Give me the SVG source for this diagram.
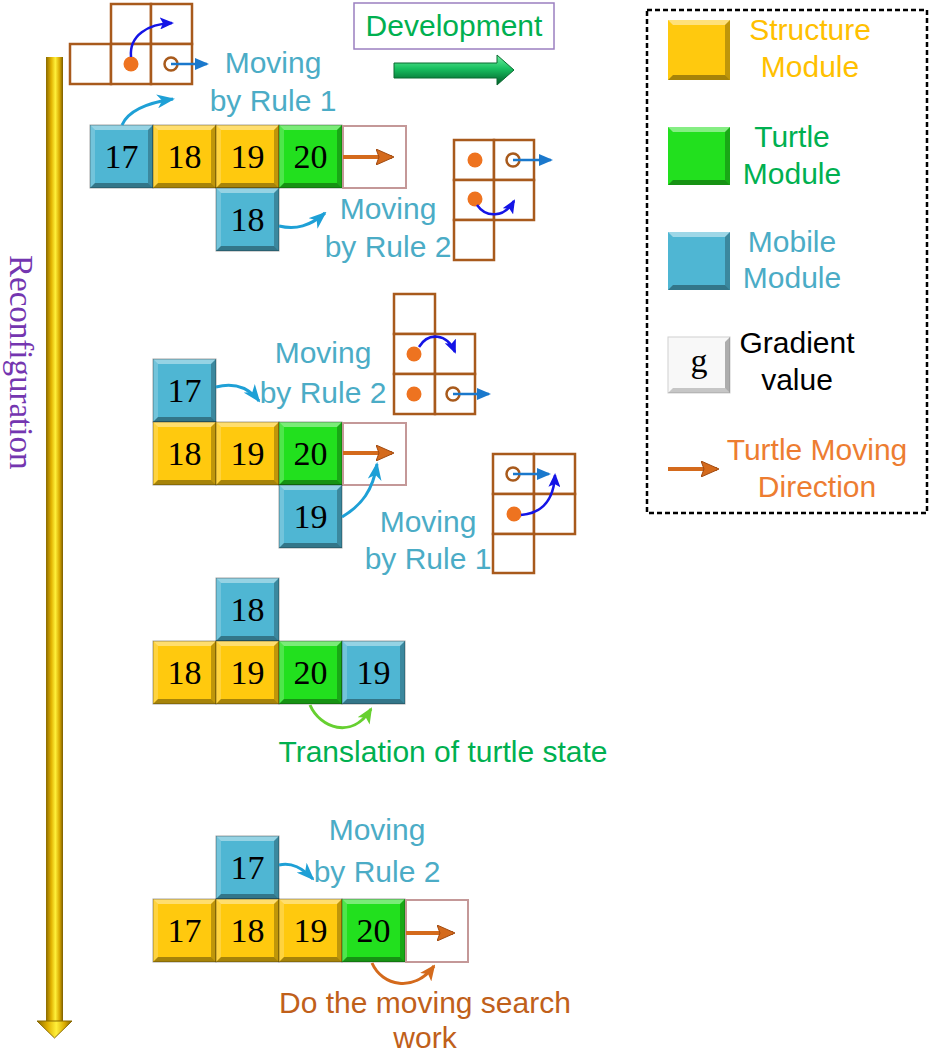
<svg xmlns="http://www.w3.org/2000/svg" xmlns:xlink="http://www.w3.org/1999/xlink" width="930" height="1057" viewBox="0 0 930 1057">
<style>
.lbl{font-family:"Liberation Sans",Arial,sans-serif;font-size:30px;text-anchor:middle}
.cy{fill:#4bacc6}
.num{font-family:"Liberation Serif","Times New Roman",serif;font-size:34px;text-anchor:middle;fill:#000}
.blue{fill:#4fb6d3}
.yel{fill:#ffc90e}
.grn{fill:#22e01e}
.edge{fill:none;stroke:#000;stroke-opacity:.35;stroke-width:1}
.empty{fill:#fff;stroke:#c49898;stroke-width:2}
.grid{fill:#fff;stroke:#a85a1c;stroke-width:2.5}
.dot{fill:#ee7320}
.hol{fill:none;stroke:#a85a1c;stroke-width:2.5}
.lb{stroke:#1a78cc;stroke-width:2.5;fill:none;marker-end:url(#mLB)}
.db{stroke:#1414e6;stroke-width:2.5;fill:none;marker-end:url(#mDB)}
.cyc{stroke:#1ea0d6;stroke-width:3;fill:none;marker-end:url(#mCY)}
.or{stroke:#d46a1c;stroke-width:4;fill:none;marker-end:url(#mOR)}
</style>
<defs>
<linearGradient id="gold" x1="0" y1="0" x2="1" y2="0">
<stop offset="0" stop-color="#8a6a00"/><stop offset="0.3" stop-color="#e0b000"/><stop offset="0.55" stop-color="#fff03a"/><stop offset="0.8" stop-color="#d8a800"/><stop offset="1" stop-color="#7a5c00"/>
</linearGradient>
<linearGradient id="dev" x1="0" y1="0" x2="0" y2="1">
<stop offset="0" stop-color="#6ef0a0"/><stop offset="0.45" stop-color="#19c060"/><stop offset="1" stop-color="#005a28"/>
</linearGradient>
<g id="bev">
<polygon points="0,0 63,0 58,5 5,5" fill="#fff" opacity=".4"/>
<polygon points="0,0 5,5 5,58 0,63" fill="#fff" opacity=".2"/>
<polygon points="0,63 5,58 58,58 63,63" fill="#000" opacity=".35"/>
<polygon points="63,0 63,63 58,58 58,5" fill="#000" opacity=".25"/>
<rect x="0" y="0" width="63" height="63" class="edge"/>
</g>
<marker id="mLB" markerUnits="userSpaceOnUse" markerWidth="14" markerHeight="12" refX="12" refY="6" orient="auto"><path d="M0,0 L14,6 L0,12 z" fill="#1a78cc"/></marker>
<marker id="mDB" markerUnits="userSpaceOnUse" markerWidth="14" markerHeight="12" refX="12" refY="6" orient="auto"><path d="M0,0 L14,6 L0,12 L3,6 z" fill="#1414e6"/></marker>
<marker id="mCY" markerUnits="userSpaceOnUse" markerWidth="18" markerHeight="14" refX="16" refY="7" orient="auto"><path d="M0,0 L18,7 L0,14 L5,7 z" fill="#1ea0d6"/></marker>
<marker id="mOR" markerUnits="userSpaceOnUse" markerWidth="18" markerHeight="16" refX="16" refY="8" orient="auto"><path d="M0,0 L18,8 L0,16 L3,8 z" fill="#d46a1c" stroke="#a04a10" stroke-width="1"/></marker>
<marker id="mGR" markerUnits="userSpaceOnUse" markerWidth="16" markerHeight="14" refX="14" refY="7" orient="auto"><path d="M0,0 L16,7 L0,14 L4,7 z" fill="#66d030"/></marker>
<marker id="mOR2" markerUnits="userSpaceOnUse" markerWidth="16" markerHeight="14" refX="14" refY="7" orient="auto"><path d="M0,0 L16,7 L0,14 L4,7 z" fill="#d46a1c"/></marker>
</defs>
<rect width="930" height="1057" fill="#fff"/>

<g id="reconfiguration">
<rect x="46" y="57" width="17" height="964" fill="url(#gold)"/>
<polygon points="37,1021 72,1021 54.5,1038" fill="url(#gold)" stroke="#8a6a00" stroke-width="1"/>
<text transform="translate(10,255) rotate(90)" font-family="Liberation Serif,serif" font-size="33" fill="#7436b0">Reconfiguration</text>
</g>

<g id="development">
<rect x="354" y="3" width="200" height="46" fill="#fff" stroke="#9b7fc0" stroke-width="1.5"/>
<text x="454" y="36" class="lbl" fill="#00b050">Development</text>
<polygon points="394,63 497,63 497,55 514,70 497,85 497,78 394,78" fill="url(#dev)" stroke="#0a6a30" stroke-width="1"/>
</g>

<g id="legend">
<rect x="647" y="10" width="280" height="503" fill="none" stroke="#000" stroke-width="2.5" stroke-dasharray="5,3"/>
<g id="leg-structure">
<rect x="668" y="20" width="62" height="60" class="yel"/>
<polygon points="668,20 730,20 725,25 673,25" fill="#fff" opacity=".45"/><polygon points="668,80 673,75 725,75 730,80" fill="#000" opacity=".35"/><polygon points="730,20 730,80 725,75 725,25" fill="#000" opacity=".25"/>
<text x="810" y="40" class="lbl" fill="#ffc000">Structure</text><text x="810" y="77" class="lbl" fill="#ffc000">Module</text>
</g>
<g id="leg-turtle">
<rect x="668" y="127" width="62" height="58" class="grn"/>
<polygon points="668,127 730,127 725,132 673,132" fill="#fff" opacity=".45"/><polygon points="668,185 673,180 725,180 730,185" fill="#000" opacity=".35"/><polygon points="730,127 730,185 725,180 725,132" fill="#000" opacity=".25"/>
<text x="792" y="147" class="lbl" fill="#00b050">Turtle</text><text x="792" y="184" class="lbl" fill="#00b050">Module</text>
</g>
<g id="leg-mobile">
<rect x="668" y="232" width="62" height="58" class="blue"/>
<polygon points="668,232 730,232 725,237 673,237" fill="#fff" opacity=".45"/><polygon points="668,290 673,285 725,285 730,290" fill="#000" opacity=".35"/><polygon points="730,232 730,290 725,285 725,237" fill="#000" opacity=".25"/>
<text x="792" y="252" class="lbl cy">Mobile</text><text x="792" y="288" class="lbl cy">Module</text>
</g>
<g id="leg-gradient">
<rect x="668" y="337" width="62" height="56" fill="#f8f8f8" stroke="#d0d0d0" stroke-width="1"/>
<polygon points="668,393 673,388 725,388 730,393" fill="#000" opacity=".2"/><polygon points="730,337 730,393 725,388 725,342" fill="#000" opacity=".3"/>
<text x="699" y="372" class="num" font-size="30">g</text>
<text x="797" y="353" class="lbl" fill="#000">Gradient</text><text x="797" y="390" class="lbl" fill="#000">value</text>
</g>
<g id="leg-direction">
<line x1="668" y1="469" x2="717" y2="469" class="or"/>
<text x="817" y="460" class="lbl" fill="#ed7d31">Turtle Moving</text><text x="817" y="497" class="lbl" fill="#ed7d31">Direction</text>
</g>
</g>

<!-- Section 1 -->
<g id="s1-grid">
<rect x="111" y="4" width="40" height="40" class="grid"/><rect x="151" y="4" width="41" height="40" class="grid"/>
<rect x="70" y="44" width="41" height="40" class="grid"/><rect x="111" y="44" width="40" height="40" class="grid"/><rect x="151" y="44" width="41" height="40" class="grid"/>
<circle cx="131" cy="64" r="7.5" class="dot"/><circle cx="171" cy="64" r="6.5" class="hol"/>
</g>
<g id="s1-label"><text x="273" y="73" class="lbl cy">Moving</text><text x="273" y="111" class="lbl cy">by Rule 1</text></g>
<g id="s1-m17" class="mod"><rect x="90" y="125" width="63" height="63" class="blue"/><use href="#bev" x="90" y="125"/><text x="121.5" y="168" class="num">17</text></g>
<g id="s1-m18" class="mod"><rect x="153" y="125" width="63" height="63" class="yel"/><use href="#bev" x="153" y="125"/><text x="184.5" y="168" class="num">18</text></g>
<g id="s1-m19" class="mod"><rect x="216" y="125" width="63" height="63" class="yel"/><use href="#bev" x="216" y="125"/><text x="247.5" y="168" class="num">19</text></g>
<g id="s1-m20" class="mod"><rect x="279" y="125" width="63" height="63" class="grn"/><use href="#bev" x="279" y="125"/><text x="310.5" y="168" class="num">20</text></g>
<g id="s1-empty"><rect x="343" y="126" width="63" height="62" class="empty"/></g>
<g id="s1-m18b" class="mod"><rect x="216" y="188" width="63" height="63" class="blue"/><use href="#bev" x="216" y="188"/><text x="247.5" y="231" class="num">18</text></g>
<g id="s1-label2"><text x="388" y="219" class="lbl cy">Moving</text><text x="388" y="257" class="lbl cy">by Rule 2</text></g>
<g id="s1-grid2">
<rect x="454" y="140" width="40" height="40" class="grid"/><rect x="494" y="140" width="40" height="40" class="grid"/>
<rect x="454" y="180" width="40" height="40" class="grid"/><rect x="494" y="180" width="40" height="40" class="grid"/>
<rect x="454" y="220" width="40" height="40" class="grid"/>
<circle cx="475" cy="160" r="7.5" class="dot"/><circle cx="513" cy="160" r="6.5" class="hol"/>
<circle cx="475" cy="199" r="7.5" class="dot"/>
</g>

<!-- Section 2 -->
<g id="s2-grid">
<rect x="394" y="294" width="41" height="40" class="grid"/>
<rect x="394" y="334" width="41" height="40" class="grid"/><rect x="435" y="334" width="40" height="40" class="grid"/>
<rect x="394" y="374" width="41" height="40" class="grid"/><rect x="435" y="374" width="40" height="40" class="grid"/>
<circle cx="414" cy="354" r="7.5" class="dot"/><circle cx="414" cy="394" r="7.5" class="dot"/><circle cx="453" cy="394" r="6.5" class="hol"/>
</g>
<g id="s2-label"><text x="323" y="363" class="lbl cy">Moving</text><text x="323" y="403" class="lbl cy">by Rule 2</text></g>
<g id="s2-m17" class="mod"><rect x="153" y="359" width="63" height="63" class="blue"/><use href="#bev" x="153" y="359"/><text x="184.5" y="402" class="num">17</text></g>
<g id="s2-m18" class="mod"><rect x="153" y="422" width="63" height="63" class="yel"/><use href="#bev" x="153" y="422"/><text x="184.5" y="465" class="num">18</text></g>
<g id="s2-m19" class="mod"><rect x="216" y="422" width="63" height="63" class="yel"/><use href="#bev" x="216" y="422"/><text x="247.5" y="465" class="num">19</text></g>
<g id="s2-m20" class="mod"><rect x="279" y="422" width="63" height="63" class="grn"/><use href="#bev" x="279" y="422"/><text x="310.5" y="465" class="num">20</text></g>
<g id="s2-empty"><rect x="343" y="423" width="63" height="62" class="empty"/></g>
<g id="s2-m19b" class="mod"><rect x="279" y="485" width="63" height="63" class="blue"/><use href="#bev" x="279" y="485"/><text x="310.5" y="528" class="num">19</text></g>
<g id="s2-grid2">
<rect x="493" y="454" width="41" height="40" class="grid"/><rect x="534" y="454" width="41" height="40" class="grid"/>
<rect x="493" y="494" width="41" height="40" class="grid"/><rect x="534" y="494" width="41" height="40" class="grid"/>
<rect x="493" y="534" width="41" height="39" class="grid"/>
<circle cx="513" cy="474" r="6.5" class="hol"/><circle cx="514" cy="514" r="7.5" class="dot"/>
</g>
<g id="s2-label2"><text x="428" y="532" class="lbl cy">Moving</text><text x="428" y="569" class="lbl cy">by Rule 1</text></g>

<!-- Section 3 -->
<g id="s3-m18b" class="mod"><rect x="216" y="578" width="63" height="63" class="blue"/><use href="#bev" x="216" y="578"/><text x="247.5" y="621" class="num">18</text></g>
<g id="s3-m18" class="mod"><rect x="153" y="641" width="63" height="63" class="yel"/><use href="#bev" x="153" y="641"/><text x="184.5" y="684" class="num">18</text></g>
<g id="s3-m19" class="mod"><rect x="216" y="641" width="63" height="63" class="yel"/><use href="#bev" x="216" y="641"/><text x="247.5" y="684" class="num">19</text></g>
<g id="s3-m20" class="mod"><rect x="279" y="641" width="63" height="63" class="grn"/><use href="#bev" x="279" y="641"/><text x="310.5" y="684" class="num">20</text></g>
<g id="s3-m19b" class="mod"><rect x="342" y="641" width="63" height="63" class="blue"/><use href="#bev" x="342" y="641"/><text x="373.5" y="684" class="num">19</text></g>
<g id="s3-label"><text x="443" y="762" class="lbl" font-size="31" fill="#00b050">Translation of turtle state</text></g>

<!-- Section 4 -->
<g id="s4-label"><text x="377" y="840" class="lbl cy">Moving</text><text x="377" y="882" class="lbl cy">by Rule 2</text></g>
<g id="s4-m17b" class="mod"><rect x="216" y="836" width="63" height="63" class="blue"/><use href="#bev" x="216" y="836"/><text x="247.5" y="879" class="num">17</text></g>
<g id="s4-m17" class="mod"><rect x="153" y="899" width="63" height="63" class="yel"/><use href="#bev" x="153" y="899"/><text x="184.5" y="942" class="num">17</text></g>
<g id="s4-m18" class="mod"><rect x="216" y="899" width="63" height="63" class="yel"/><use href="#bev" x="216" y="899"/><text x="247.5" y="942" class="num">18</text></g>
<g id="s4-m19" class="mod"><rect x="279" y="899" width="63" height="63" class="yel"/><use href="#bev" x="279" y="899"/><text x="310.5" y="942" class="num">19</text></g>
<g id="s4-m20" class="mod"><rect x="342" y="899" width="63" height="63" class="grn"/><use href="#bev" x="342" y="899"/><text x="373.5" y="942" class="num">20</text></g>
<g id="s4-empty"><rect x="406" y="900" width="62" height="62" class="empty"/></g>
<g id="s4-label2"><text x="425" y="1013" class="lbl" fill="#c0601a">Do the moving search</text><text x="425" y="1048" class="lbl" fill="#c0601a">work</text></g>

<g id="connectors">
<line x1="171" y1="64" x2="207" y2="64" class="lb"/>
<path d="M131,57 C129,35 148,24 172,23" class="db"/>
<path d="M122,125 C128,111 146,103 173,99" class="cyc"/>
<path d="M279,226 C296,230 310,226 325,213" class="cyc"/>
<line x1="513" y1="160" x2="551" y2="160" class="lb"/>
<path d="M477,205 C486,218 504,218 514,201" class="db"/>
<line x1="343" y1="157" x2="392" y2="157" class="or"/>

<path d="M419,347 C428,332 447,333 455,352" class="db"/>
<line x1="453" y1="394" x2="489" y2="394" class="lb"/>
<path d="M216,387 C236,382 249,388 259,401" class="cyc"/>
<line x1="343" y1="453" x2="392" y2="453" class="or"/>
<path d="M342,517 C362,505 373,490 377,464" class="cyc"/>
<line x1="513" y1="474" x2="549" y2="474" class="lb"/>
<path d="M521,515 C545,513 554,496 555,475" class="db"/>

<path d="M310,705 C320,728 352,740 371,709" stroke="#66d030" stroke-width="3" fill="none" marker-end="url(#mGR)"/>

<path d="M279,865 C292,862 302,868 313,879" class="cyc"/>
<line x1="406" y1="933" x2="453" y2="933" class="or"/>
<path d="M372,963 C382,986 414,993 434,966" stroke="#d46a1c" stroke-width="3" fill="none" marker-end="url(#mOR2)"/>
</g>
</svg>
